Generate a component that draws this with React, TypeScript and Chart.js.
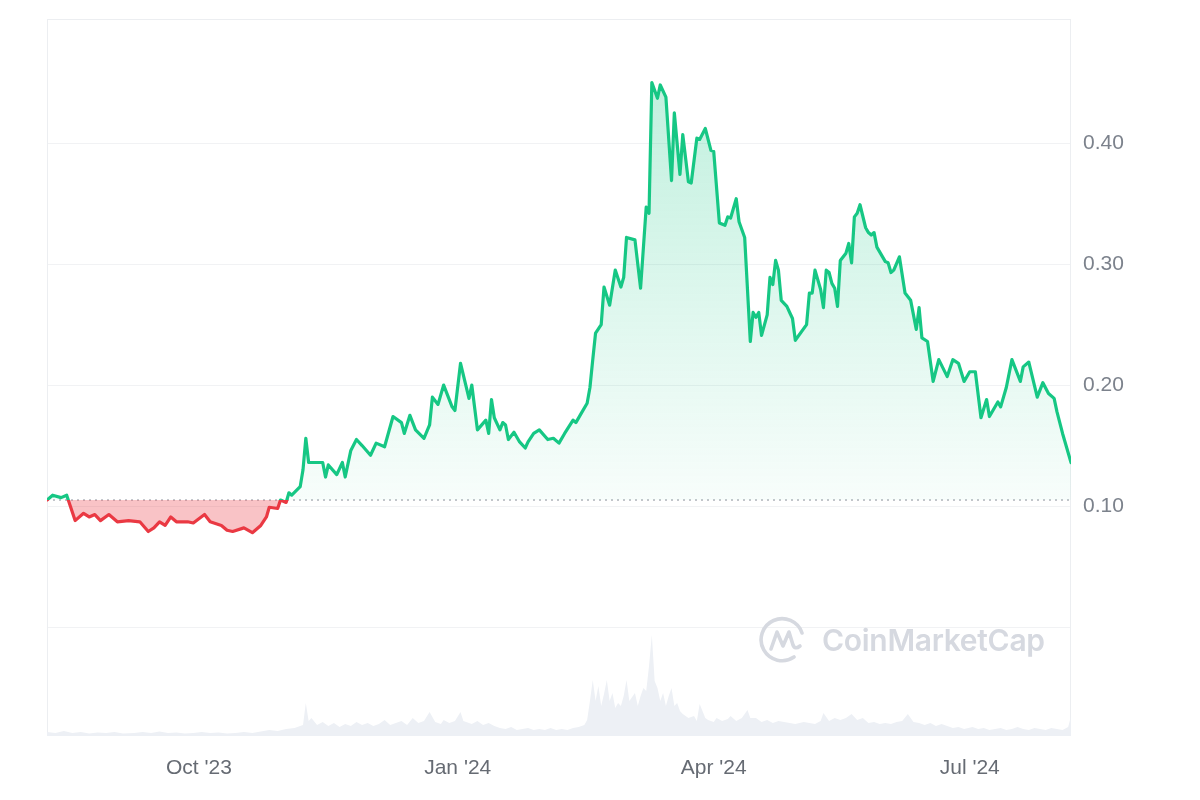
import React, { useEffect, useRef } from 'react';
import { Chart, registerables } from 'chart.js';

Chart.register(...registerables);

// ---- data ----
const startDate = '2023-08-08';
const lastDay = 364;

const priceDays = [
  0, 2, 5, 7, 10, 13, 15, 17, 19, 22,
  25, 29, 33, 36, 38, 40, 42, 44, 46, 50,
  52, 56, 58, 62, 64, 66, 70, 73, 76, 78,
  79, 82, 83, 85, 86, 87, 90, 91, 92, 93,
  95, 98, 99, 100, 103, 105, 106, 108, 110, 112,
  115, 117, 120, 123, 126, 127, 129, 131, 134, 136,
  137, 139, 141, 142, 144, 145, 147, 150, 151, 153,
  156, 157, 158, 159, 161, 162, 163, 164, 166, 168,
  170, 171, 173, 175, 178, 180, 182, 184, 187, 188,
  190, 192, 193, 194, 195, 197, 198, 200, 202, 204,
  205, 206, 209, 211, 213, 214, 215, 217, 218, 220,
  222, 223, 225, 226, 228, 229, 231, 232, 234, 236,
  237, 239, 241, 242, 243, 245, 246, 248, 250, 251,
  252, 253, 254, 256, 257, 258, 259, 260, 261, 263,
  264, 265, 266, 270, 271, 272, 273, 275, 276, 277,
  278, 279, 280, 281, 282, 284, 285, 286, 287, 288,
  289, 291, 292, 293, 294, 295, 298, 299, 300, 301,
  303, 305, 307, 309, 310, 311, 313, 315, 317, 320,
  322, 324, 326, 328, 330, 332, 334, 335, 338, 339,
  341, 343, 346, 347, 349, 352, 354, 356, 358, 359,
  361, 364,
];

const prices = [
  0.105, 0.109, 0.107, 0.109, 0.088, 0.094, 0.091, 0.093, 0.088, 0.093,
  0.087, 0.088, 0.087, 0.079, 0.082, 0.087, 0.084, 0.091, 0.087, 0.087,
  0.086, 0.093, 0.087, 0.084, 0.080, 0.079, 0.082, 0.078, 0.084, 0.091,
  0.099, 0.098, 0.105, 0.103, 0.111, 0.109, 0.116, 0.130, 0.156, 0.136,
  0.136, 0.136, 0.124, 0.134, 0.126, 0.136, 0.124, 0.146, 0.155, 0.150,
  0.142, 0.152, 0.149, 0.174, 0.169, 0.160, 0.175, 0.163, 0.156, 0.167,
  0.190, 0.184, 0.200, 0.194, 0.182, 0.179, 0.218, 0.189, 0.200, 0.163,
  0.171, 0.160, 0.188, 0.173, 0.163, 0.169, 0.167, 0.155, 0.161, 0.153,
  0.148, 0.153, 0.160, 0.163, 0.155, 0.156, 0.152, 0.160, 0.171, 0.169,
  0.177, 0.185, 0.198, 0.221, 0.243, 0.250, 0.281, 0.266, 0.295, 0.281,
  0.289, 0.322, 0.320, 0.280, 0.347, 0.342, 0.450, 0.437, 0.448, 0.438,
  0.369, 0.425, 0.374, 0.407, 0.368, 0.367, 0.404, 0.403, 0.412, 0.394,
  0.393, 0.334, 0.332, 0.339, 0.338, 0.354, 0.335, 0.322, 0.236, 0.260,
  0.256, 0.260, 0.241, 0.258, 0.289, 0.283, 0.303, 0.295, 0.270, 0.265,
  0.260, 0.255, 0.237, 0.250, 0.276, 0.276, 0.295, 0.279, 0.264, 0.295,
  0.293, 0.284, 0.280, 0.265, 0.303, 0.309, 0.317, 0.301, 0.339, 0.342,
  0.349, 0.330, 0.326, 0.324, 0.326, 0.314, 0.302, 0.301, 0.293, 0.295,
  0.306, 0.276, 0.270, 0.246, 0.264, 0.239, 0.236, 0.203, 0.221, 0.207,
  0.221, 0.218, 0.203, 0.211, 0.211, 0.173, 0.188, 0.174, 0.186, 0.182,
  0.198, 0.221, 0.203, 0.215, 0.219, 0.190, 0.202, 0.193, 0.189, 0.178,
  0.160, 0.136,
];

const volumeDays = [
  0, 3, 6, 9, 12, 15, 18, 21, 24, 27,
  31, 34, 37, 40, 43, 46, 49, 52, 55, 58,
  61, 64, 67, 70, 73, 76, 79, 82, 85, 88,
  91, 92, 93, 94, 96, 98, 100, 102, 104, 106,
  108, 110, 112, 114, 116, 118, 120, 122, 124, 126,
  128, 130, 132, 134, 136, 138, 140, 141, 143, 145,
  147, 148, 151, 153, 155, 157, 159, 161, 163, 165,
  167, 169, 171, 173, 175, 177, 179, 181, 183, 185,
  187, 189, 191, 192, 193, 194, 195, 196, 197, 198,
  199, 200, 201, 202, 203, 204, 205, 206, 207, 209,
  210, 211, 212, 213, 214, 215, 216, 217, 218, 219,
  220, 221, 222, 223, 224, 225, 226, 228, 230, 231,
  232, 234, 235, 237, 238, 240, 242, 243, 245, 247,
  249, 250, 252, 254, 256, 258, 260, 262, 264, 266,
  269, 271, 273, 275, 276, 278, 280, 282, 284, 286,
  288, 290, 292, 294, 296, 298, 300, 302, 304, 306,
  308, 310, 312, 314, 316, 318, 320, 322, 324, 326,
  329, 331, 333, 335, 337, 339, 341, 343, 345, 347,
  349, 351, 353, 355, 357, 359, 361, 363, 364,
];

// volume in millions (USD)
const volumes = [
  8, 6, 10, 6, 8, 5, 7, 6, 8, 5,
  6, 8, 6, 9, 6, 7, 5, 6, 8, 6,
  7, 5, 6, 8, 6, 9, 12, 10, 14, 16,
  22, 66, 30, 36, 22, 28, 20, 26, 18, 24,
  20, 28, 22, 26, 20, 24, 32, 22, 26, 30,
  22, 36, 26, 30, 48, 28, 24, 32, 26, 30,
  48, 30, 24, 30, 22, 26, 20, 16, 14, 18,
  12, 14, 16, 12, 14, 12, 16, 12, 14, 12,
  16, 18, 22, 32, 70, 112, 70, 100, 60, 84,
  112, 70, 86, 56, 66, 60, 80, 112, 70, 86,
  60, 80, 96, 90, 140, 202, 110, 96, 70, 86,
  60, 80, 96, 60, 66, 50, 44, 36, 40, 30,
  64, 36, 32, 28, 36, 30, 34, 40, 30, 36,
  52, 36, 36, 28, 32, 26, 30, 28, 26, 24,
  28, 26, 24, 30, 46, 30, 36, 32, 36, 44,
  32, 36, 26, 28, 24, 26, 24, 28, 30, 44,
  28, 26, 22, 26, 20, 24, 20, 16, 18, 14,
  18, 14, 16, 12, 14, 16, 12, 14, 18, 14,
  12, 16, 14, 12, 16, 14, 12, 18, 40,
];

const yTickValues = [0, 0.1, 0.2, 0.3, 0.4];
const xTickDates = ['2023-10-01', '2024-01-01', '2024-04-01', '2024-07-01'];
const xTickLabels = ["Oct '23", "Jan '24", "Apr '24", "Jul '24"];

const GREEN = '#16c784';
const RED = '#ea3943';

export default function App() {
  const canvasRef = useRef<HTMLCanvasElement>(null);

  useEffect(() => {
    if (!canvasRef.current) return;
    const base = prices[0];
    const dayOf = (d: string) =>
      Math.round((Date.parse(d) - Date.parse(startDate)) / 86400000);
    const xTickDays = xTickDates.map(dayOf);
    const maxVol = Math.max(...volumes);

    const frame = {
      id: 'frame',
      beforeDatasetsDraw(chart: any) {
        const { ctx, chartArea: a } = chart;
        ctx.save();
        ctx.strokeStyle = '#eceef1';
        ctx.lineWidth = 1;
        ctx.strokeRect(a.left + 0.5, a.top + 0.5, a.right - a.left - 1, a.bottom - a.top - 1);
        ctx.restore();
      },
    };

    const chart = new Chart(canvasRef.current, {
      type: 'line',
      data: {
        datasets: [
          {
            label: 'Price',
            data: priceDays.map((d, i) => ({ x: d, y: prices[i] })),
            yAxisID: 'y',
            order: 0,
            borderWidth: 3.2,
            tension: 0,
            pointRadius: 0,
            borderJoinStyle: 'round',
            borderCapStyle: 'round',
            borderColor: (ctx: any) => {
              const c = ctx.chart;
              const a = c.chartArea;
              if (!a) return GREEN;
              const py = c.scales.y.getPixelForValue(base);
              const s = Math.min(1, Math.max(0, (py - a.top) / (a.bottom - a.top)));
              const g = c.ctx.createLinearGradient(0, a.top, 0, a.bottom);
              g.addColorStop(0, GREEN);
              g.addColorStop(s, GREEN);
              g.addColorStop(s, RED);
              g.addColorStop(1, RED);
              return g;
            },
            backgroundColor: (ctx: any) => {
              const c = ctx.chart;
              const a = c.chartArea;
              if (!a) return 'rgba(22,199,132,0.1)';
              const py = c.scales.y.getPixelForValue(base);
              const g = c.ctx.createLinearGradient(0, a.top, 0, py);
              g.addColorStop(0, 'rgba(22,199,132,0.30)');
              g.addColorStop(1, 'rgba(22,199,132,0.03)');
              return g;
            },
            fill: { value: base, below: 'rgba(234,57,67,0.30)' },
          } as any,
          {
            label: 'Baseline',
            data: [
              { x: 0, y: base },
              { x: lastDay, y: base },
            ],
            yAxisID: 'y',
            order: 1,
            borderColor: '#8a8f99',
            borderWidth: 1,
            borderDash: [2, 4],
            pointRadius: 0,
            fill: false,
          } as any,
          {
            label: 'Volume',
            data: volumeDays.map((d, i) => ({ x: d, y: volumes[i] })),
            yAxisID: 'yv',
            order: 2,
            borderWidth: 0,
            pointRadius: 0,
            tension: 0,
            backgroundColor: '#edf0f5',
            borderColor: 'rgba(0,0,0,0)',
            fill: 'origin',
          } as any,
        ],
      },
      options: {
        responsive: false,
        animation: false,
        layout: { padding: { left: 39, top: 11, right: 0, bottom: 0 } },
        plugins: {
          legend: { display: false },
          tooltip: { enabled: false },
        },
        scales: {
          x: {
            type: 'linear',
            min: 0,
            max: lastDay,
            grid: { display: false },
            border: { display: false },
            afterBuildTicks: (scale: any) => {
              scale.ticks = xTickDays.map((v) => ({ value: v }));
            },
            afterFit: (scale: any) => {
              scale.height = 56;
            },
            ticks: {
              autoSkip: false,
              maxRotation: 0,
              padding: 14,
              color: '#666b73',
              font: { family: '"Liberation Sans", Arial, sans-serif', size: 21, lineHeight: 1 },
              callback: (_v: any, i: number) => xTickLabels[i],
            },
          },
          y: {
            position: 'right',
            min: -0.09,
            max: 0.5025,
            grid: {
              color: '#f1f2f4',
              drawTicks: true,
              tickLength: 12,
              tickColor: 'rgba(0,0,0,0)',
            },
            border: { display: false },
            afterBuildTicks: (scale: any) => {
              scale.ticks = yTickValues.map((v) => ({ value: v }));
            },
            afterFit: (scale: any) => {
              scale.width = 121;
            },
            ticks: {
              padding: 0,
              color: '#7c828c',
              font: { family: '"Liberation Sans", Arial, sans-serif', size: 21, lineHeight: 1 },
              callback: (v: any) => (Number(v) === 0 ? '' : Number(v).toFixed(2)),
            },
          },
          yv: {
            display: false,
            min: 0,
            max: maxVol * 7.1,
          },
        },
      } as any,
      plugins: [frame],
    });

    return () => chart.destroy();
  }, []);

  return (
    <div style={{ position: 'relative', width: 1184, height: 784 }}>
      <canvas ref={canvasRef} width={1184} height={784} style={{ display: 'block' }} />
      <div
        style={{
          position: 'absolute',
          left: 750,
          top: 607,
          display: 'flex',
          alignItems: 'center',
          pointerEvents: 'none',
        }}
      >
        <svg width="50" height="50" viewBox="0 0 50 50">
          <path
            d="M 44 18 A 21 21 0 1 0 36 42"
            fill="none"
            stroke="#d6d9e0"
            strokeWidth="3.6"
            strokeLinecap="round"
          />
          <path
            d="M 13 34 L 19 17 L 25 31 L 31 17 L 35 30 Q 37 35 42 31"
            fill="none"
            stroke="#d6d9e0"
            strokeWidth="3.6"
            strokeLinejoin="round"
            strokeLinecap="round"
          />
        </svg>
        <span
          style={{
            marginLeft: 14,
            fontFamily: 'Inter, "Noto Sans", sans-serif',
            fontWeight: 600,
            fontSize: 30,
            color: '#d6d9e0',
            lineHeight: 1,
            letterSpacing: -0.3,
          }}
        >
          CoinMarketCap
        </span>
      </div>
    </div>
  );
}
